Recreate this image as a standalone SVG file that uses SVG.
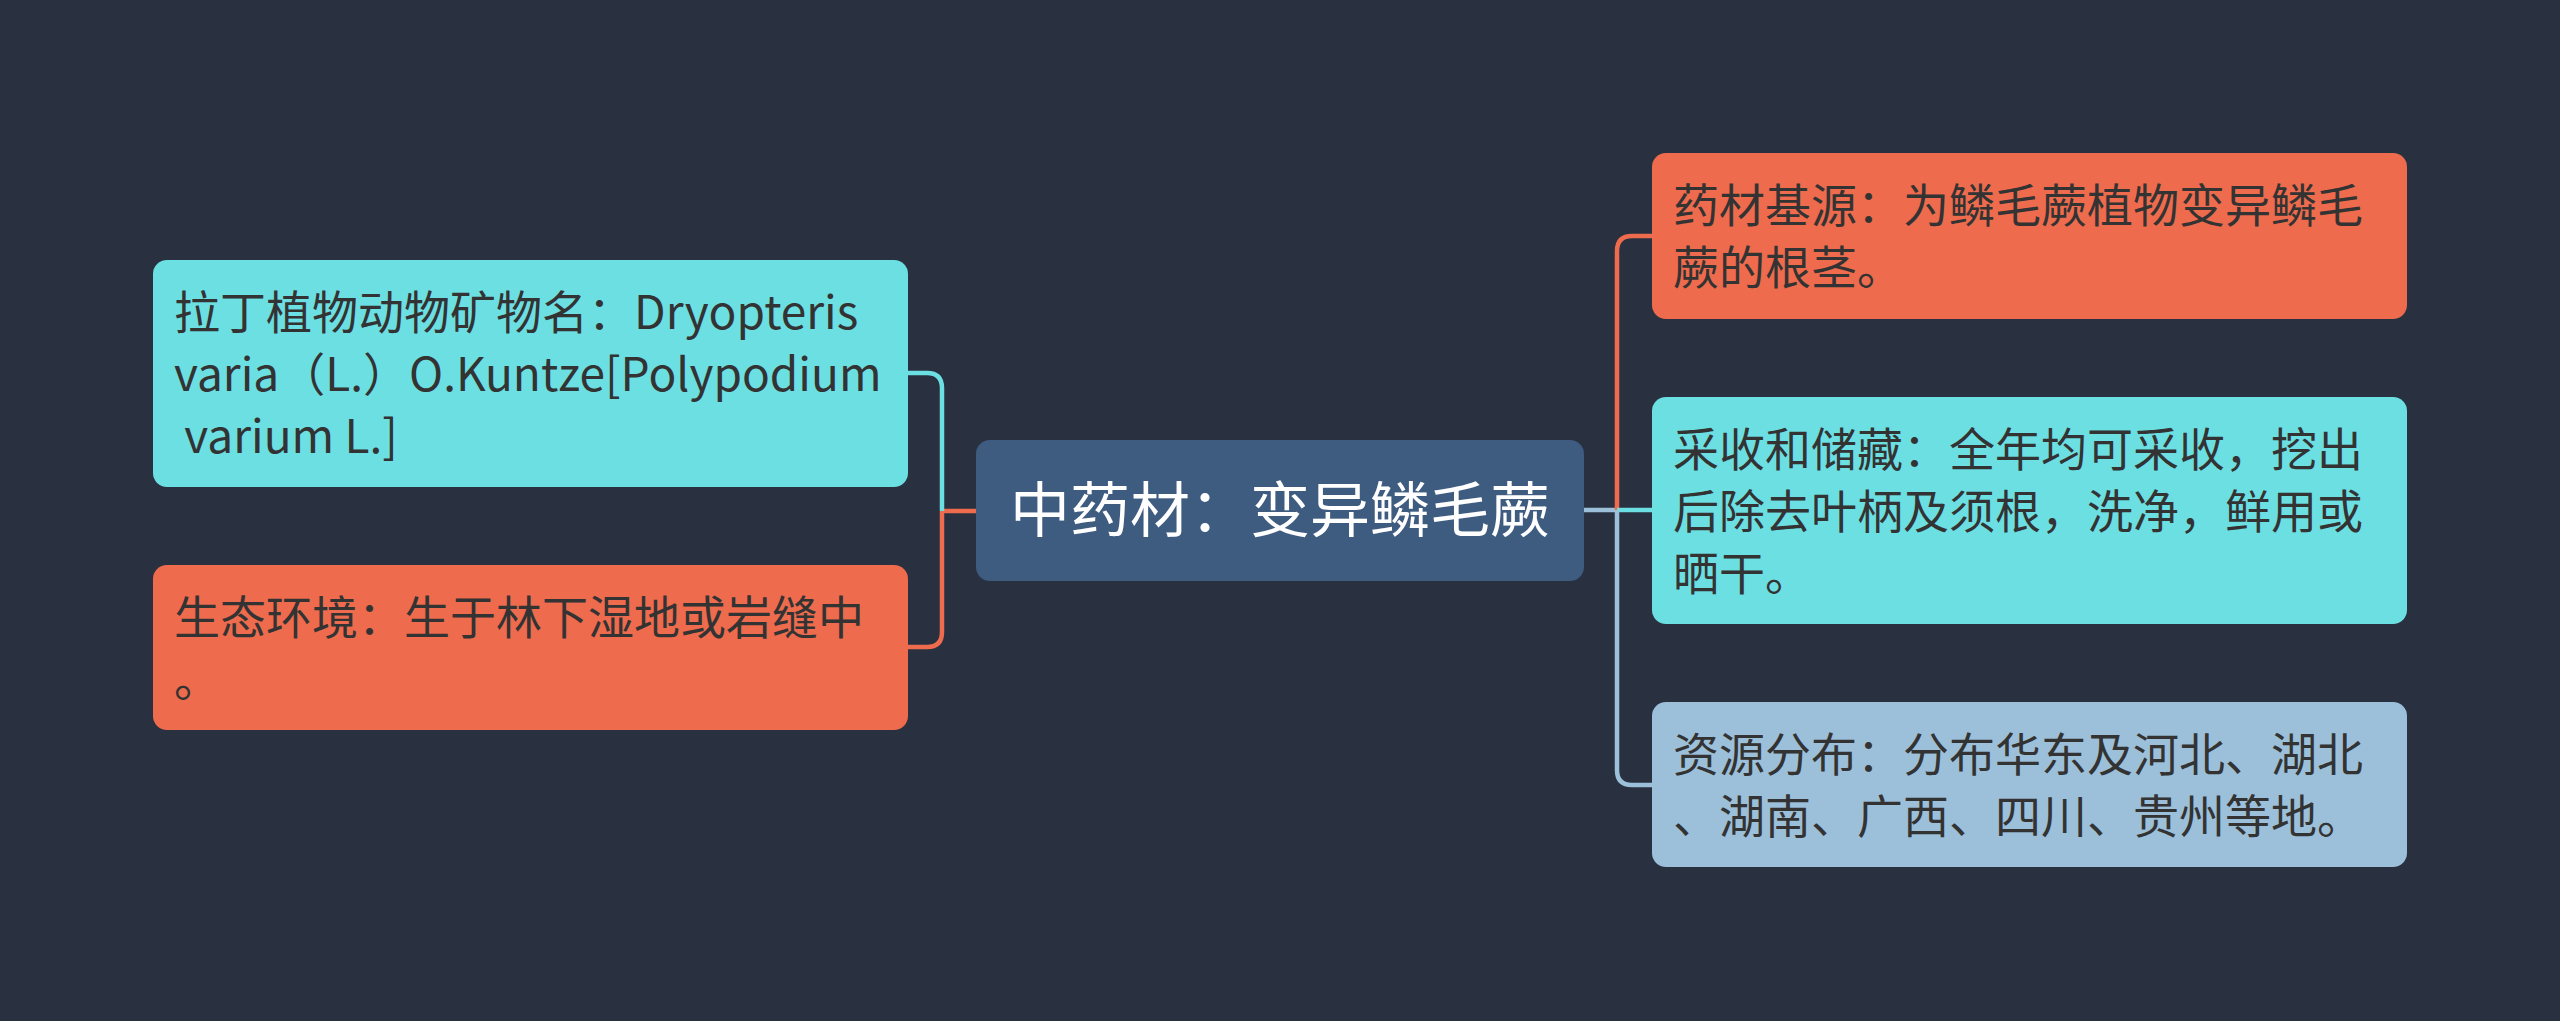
<svg xmlns="http://www.w3.org/2000/svg" width="2560" height="1021" viewBox="0 0 2560 1021">
<style>
.bg{fill:#29303f}
.box{stroke:none}
.orange{fill:#ee6b4d}
.cyan{fill:#6cdfe3}
.lblue{fill:#9cc0da}
.center{fill:#3e5b80}
.t{font-family:"Noto Sans CJK SC","Noto Sans",sans-serif;font-size:46px;fill:#333333}
.tc{font-family:"Noto Sans CJK SC","Noto Sans",sans-serif;font-size:60px;fill:#ffffff;text-anchor:middle}
.c{fill:none;stroke-width:4.5;stroke-linecap:butt;stroke-linejoin:round}
</style>
<rect class="bg" x="0" y="0" width="2560" height="1021"/>
<g id="connectors">
  <path class="c" stroke="#ee6b4d" d="M976,511 H942"/>
  <path class="c" stroke="#6cdfe3" d="M942,511 V388 Q942,373 927,373 H908"/>
  <path class="c" stroke="#ee6b4d" d="M942,511 V632 Q942,647 927,647 H908"/>
  <path class="c" stroke="#9cc0da" d="M1584,510 H1617"/>
  <path class="c" stroke="#ee6b4d" d="M1617,510 V251 Q1617,236 1632,236 H1652"/>
  <path class="c" stroke="#6cdfe3" d="M1617,510 H1652"/>
  <path class="c" stroke="#9cc0da" d="M1617,510 V770 Q1617,785 1632,785 H1652"/>
</g>
<g id="center">
  <rect class="box center" x="976" y="440" width="608" height="141" rx="14"/>
  <text class="tc" x="1280" y="532">中药材：变异鳞毛蕨</text>
</g>
<g id="left1">
  <rect class="box cyan" x="153" y="260" width="755" height="227" rx="14"/>
  <text class="t" x="174" y="329">拉丁植物动物矿物名：Dryopteris</text>
  <text class="t" x="174" y="391">varia（L.）O.Kuntze[Polypodium</text>
  <text class="t" x="174" y="453" xml:space="preserve"> varium L.]</text>
</g>
<g id="left2">
  <rect class="box orange" x="153" y="565" width="755" height="165" rx="14"/>
  <text class="t" x="174" y="634">生态环境：生于林下湿地或岩缝中</text>
  <text class="t" x="174" y="696">。</text>
</g>
<g id="right1">
  <rect class="box orange" x="1652" y="153" width="755" height="166" rx="14"/>
  <text class="t" x="1673" y="222">药材基源：为鳞毛蕨植物变异鳞毛</text>
  <text class="t" x="1673" y="284">蕨的根茎。</text>
</g>
<g id="right2">
  <rect class="box cyan" x="1652" y="397" width="755" height="227" rx="14"/>
  <text class="t" x="1673" y="466">采收和储藏：全年均可采收，挖出</text>
  <text class="t" x="1673" y="528">后除去叶柄及须根，洗净，鲜用或</text>
  <text class="t" x="1673" y="590">晒干。</text>
</g>
<g id="right3">
  <rect class="box lblue" x="1652" y="702" width="755" height="165" rx="14"/>
  <text class="t" x="1673" y="771">资源分布：分布华东及河北、湖北</text>
  <text class="t" x="1673" y="833">、湖南、广西、四川、贵州等地。</text>
</g>
</svg>
